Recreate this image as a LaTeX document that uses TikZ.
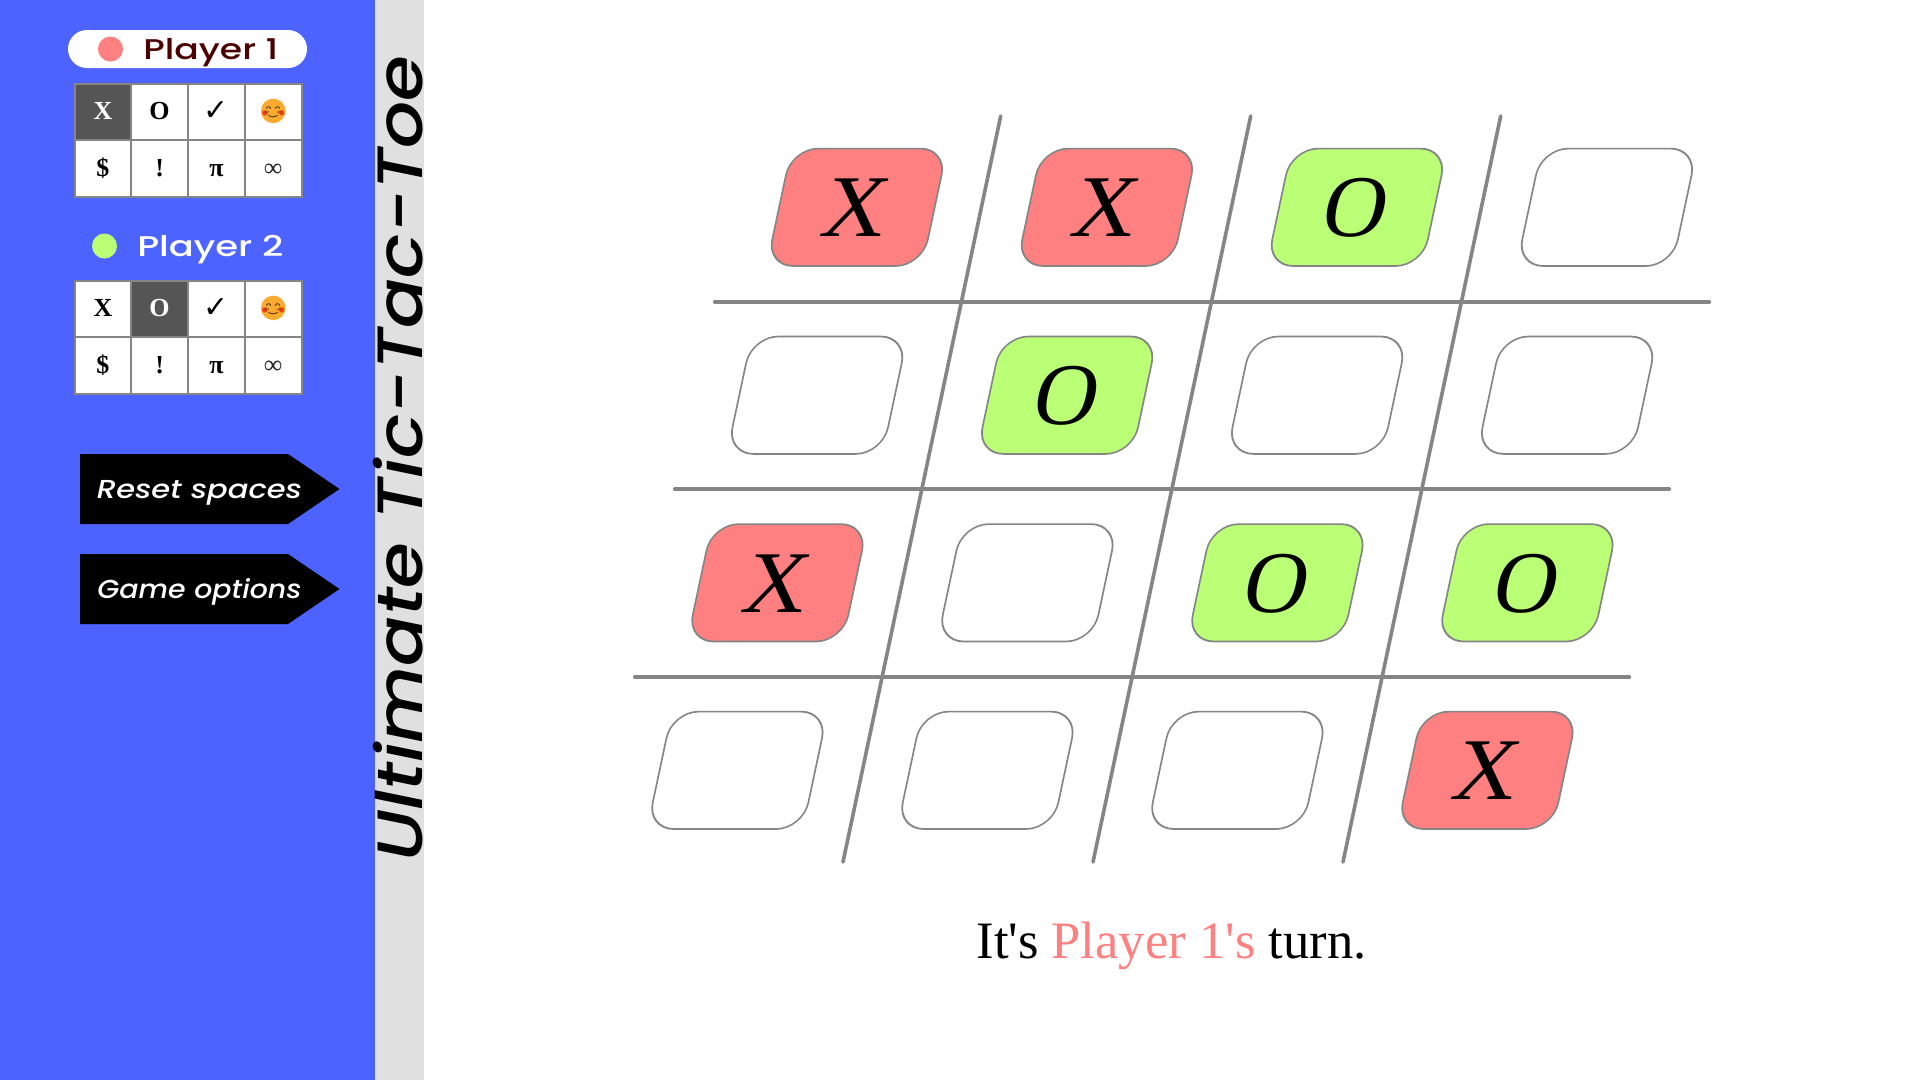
\documentclass[tikz,border=0pt]{standalone}
\usepackage{fontspec}
\usetikzlibrary{calc}
\newfontfamily\serif{Liberation Serif}
\newfontfamily\deja{DejaVu Sans}
\newfontfamily\emo{Noto Emoji}
\newfontfamily\disp{Poppins Medium}[ItalicFont={Poppins Medium Italic}]
\definecolor{panel}{HTML}{4D63FF}
\definecolor{strip}{HTML}{E0E0E0}
\definecolor{rule}{HTML}{858585}
\definecolor{pred}{HTML}{FF8080}
\definecolor{pgreen}{HTML}{BBFF77}
\definecolor{maroon}{HTML}{4D0000}
\definecolor{selcell}{HTML}{555555}
\definecolor{emojibg}{HTML}{FBAA30}
\definecolor{emojiln}{HTML}{5A3510}
\tikzset{
  x=1pt,y=-1pt,
  hline/.style={draw=rule,line width=4.2pt,line cap=round},
  vline/.style={draw=rule,line width=3.6pt,line cap=round},
  tablecell/.style={draw=rule,line width=2pt},
  tile/.style={draw=rule,line width=1.7pt,rounded corners=26.5pt},
  sym/.style={anchor=base,inner sep=0pt,font=\serif\bfseries\fontsize{26}{26}\selectfont},
  tilemark/.style={anchor=base,inner sep=0pt,font=\serif\fontsize{88}{88}\selectfont},
  arrowbtn/.style={fill=black},
  btntext/.style={anchor=base,inner sep=0pt,text=white,transform shape,font=\disp\itshape\fontsize{26}{26}\selectfont},
  plabel/.style={anchor=base west,inner sep=0pt,transform shape,font=\disp\fontsize{28.5}{28.5}\selectfont},
}
\newcommand{\tilecell}[5]{%
  \begin{scope}[transform canvas={shift={(#2+0.4,#3)},cm={1,0,0.2126,1,(0,0)}}]
    \draw[tile,fill=#4] (-77.8,-58.7) rectangle (77.8,58.7);
    \node[tilemark] (#1) at (0,29.2) {#5};
  \end{scope}}
\newcommand{\tcell}[6]{%
  \draw[tablecell,fill=#4] (#2,#3) rectangle ++(56.8,56.8);
  \node[sym,text=#5] (#1) at ($(#2,#3)+(28.4,36)$) {#6};}
\newcommand{\emojiface}[3]{%
  \node[circle,fill=emojibg,minimum size=24.5pt,inner sep=0pt] (#1) at (#2,#3) {};
  \fill[red!80!orange,opacity=.75] (#2-8.5,#3+2) circle (2.6pt) (#2+8.5,#3+2) circle (2.6pt);
  \begin{scope}
    \clip (#2,#3) circle (10.2pt);
    \node[anchor=center,inner sep=0pt,text=emojiln,font=\emo\fontsize{26}{26}\selectfont] (#1g) at (#2,#3) {😊};
  \end{scope}}
% prefix, top, Xfill, Xtext, Ofill, Otext
\newcommand{\symtable}[6]{%
  \tcell{#1a}{74.5}{#2}{#3}{#4}{X}
  \tcell{#1b}{131.2}{#2}{#5}{#6}{O}
  \tcell{#1c}{188}{#2}{white}{black}{\deja\mdseries\fontsize{30}{30}\selectfont\raisebox{-1pt}{✓}}
  \tcell{#1d}{244.8}{#2}{white}{black}{}
  \emojiface{#1e}{273.2}{#2+27.4}
  \tcell{#1f}{74.5}{#2+56.8}{white}{black}{\$}
  \tcell{#1h}{131.2}{#2+56.8}{white}{black}{!}
  \tcell{#1i}{188}{#2+56.8}{white}{black}{π}
  \tcell{#1j}{244.8}{#2+56.8}{white}{black!85}{\mdseries ∞}
}
\begin{document}
\begin{tikzpicture}
\useasboundingbox (0,0) rectangle (1920,1080);
\fill[white] (0,0) rectangle (1920,1080);
\fill[panel] (0,0) rectangle (375,1080);
\fill[strip] (375,0) rectangle (424,1080);
% player 1
\fill[white,rounded corners=19pt] (68,30) rectangle (307,68);
\node[circle,fill=pred,minimum size=25pt,inner sep=0pt] (dot1) at (110.5,49) {};
\node[plabel,text=maroon,xscale=1.27] (p1) at (143,59) {Player 1};
\symtable{ta}{83.5}{selcell}{white}{white}{black}
% player 2
\node[circle,fill=pgreen,minimum size=25pt,inner sep=0pt] (dot2) at (104.5,246) {};
\node[plabel,text=white,xscale=1.295] (p2) at (137,256) {Player 2};
\symtable{tb}{280.5}{white}{black}{selcell}{white}
% buttons
\fill[arrowbtn] (80,454) -- (288,454) -- (339.5,489) -- (288,524) -- (80,524) -- cycle;
\fill[arrowbtn] (80,554) -- (288,554) -- (339.5,589) -- (288,624) -- (80,624) -- cycle;
\node[btntext,xscale=1.175] (b1) at (199.5,498.7) {Reset spaces};
\node[btntext,xscale=1.093] (b2) at (199.5,598.3) {Game options};
% title
\node[anchor=base west,rotate=90,xscale=1.16,transform shape,inner sep=0pt,text=black,font=\disp\itshape\fontsize{64}{64}\selectfont] (title) at (422,861.5) {Ultimate Tic-Tac-Toe};
% grid
\draw[hline] (715,301.7) -- (1709,301.7);
\draw[hline] (675,489) -- (1669,489);
\draw[hline] (635,676.7) -- (1629,676.7);
\draw[vline] (1000.7,116) -- (843,862);
\draw[vline] (1250.7,116) -- (1093,862);
\draw[vline] (1500.7,116) -- (1343,862);
% tiles
\tilecell{c11}{856.5}{207.3}{pred}{X}
\tilecell{c12}{1106.5}{207.3}{pred}{X}
\tilecell{c13}{1356.5}{207.3}{pgreen}{O}
\tilecell{c14}{1606.5}{207.3}{white}{}
\tilecell{c21}{816.7}{395.2}{white}{}
\tilecell{c22}{1066.7}{395.2}{pgreen}{O}
\tilecell{c23}{1316.7}{395.2}{white}{}
\tilecell{c24}{1566.7}{395.2}{white}{}
\tilecell{c31}{777}{582.8}{pred}{X}
\tilecell{c32}{1027}{582.8}{white}{}
\tilecell{c33}{1277}{582.8}{pgreen}{O}
\tilecell{c34}{1527}{582.8}{pgreen}{O}
\tilecell{c41}{737}{770.3}{white}{}
\tilecell{c42}{987}{770.3}{white}{}
\tilecell{c43}{1237}{770.3}{white}{}
\tilecell{c44}{1487}{770.3}{pred}{X}
% status
\node[anchor=base,inner sep=0pt,font=\serif\fontsize{52.6}{52.6}\selectfont] (status) at (1171.5,958) {It's \textcolor{pred}{Player 1's} turn.};
\end{tikzpicture}
\end{document}
